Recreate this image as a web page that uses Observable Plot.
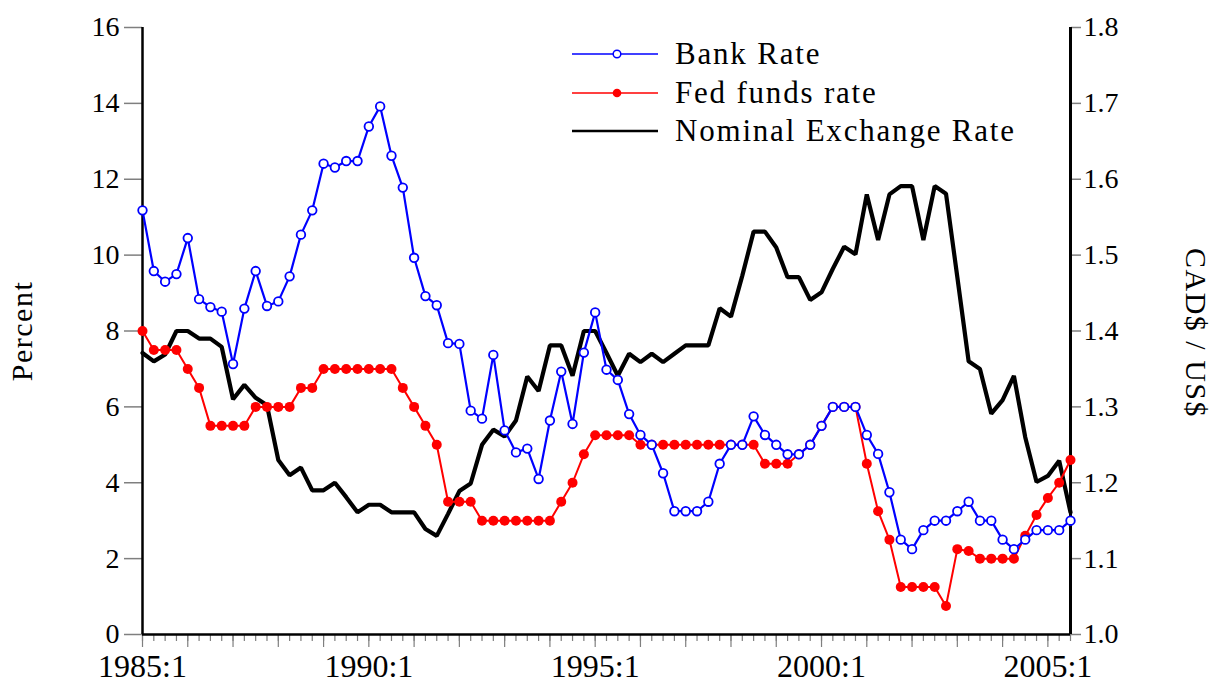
<!DOCTYPE html>
<html>
<head>
<meta charset="utf-8">
<script src="https://cdn.jsdelivr.net/npm/d3@7"></script>
<script src="https://cdn.jsdelivr.net/npm/@observablehq/plot@0.6"></script>
<style>
  body { margin: 0; background: #fff; }
  #wrap { position: relative; width: 1231px; height: 688px; }
  #wrap svg { display: block; }
  #overlay { position: absolute; left: 0; top: 0; pointer-events: none; }
</style>
</head>
<body>
<div id="wrap"></div>
<script>
// Quarterly periods
const periods = [
  "1985:1","1985:2","1985:3","1985:4","1986:1","1986:2","1986:3","1986:4",
  "1987:1","1987:2","1987:3","1987:4","1988:1","1988:2","1988:3","1988:4",
  "1989:1","1989:2","1989:3","1989:4","1990:1","1990:2","1990:3","1990:4",
  "1991:1","1991:2","1991:3","1991:4","1992:1","1992:2","1992:3","1992:4",
  "1993:1","1993:2","1993:3","1993:4","1994:1","1994:2","1994:3","1994:4",
  "1995:1","1995:2","1995:3","1995:4","1996:1","1996:2","1996:3","1996:4",
  "1997:1","1997:2","1997:3","1997:4","1998:1","1998:2","1998:3","1998:4",
  "1999:1","1999:2","1999:3","1999:4","2000:1","2000:2","2000:3","2000:4",
  "2001:1","2001:2","2001:3","2001:4","2002:1","2002:2","2002:3","2002:4",
  "2003:1","2003:2","2003:3","2003:4","2004:1","2004:2","2004:3","2004:4",
  "2005:1","2005:2","2005:3"
];

// Bank Rate (Canada), percent
const bankRate = [
  11.18, 9.58, 9.30, 9.50, 10.45, 8.84, 8.63, 8.51,
  7.13, 8.59, 9.58, 8.66, 8.78, 9.44, 10.54, 11.18,
  12.41, 12.31, 12.48, 12.48, 13.39, 13.92, 12.62, 11.78,
  9.93, 8.92, 8.68, 7.68, 7.66, 5.90, 5.69, 7.37,
  5.38, 4.80, 4.90, 4.10, 5.64, 6.93, 5.55, 7.43,
  8.49, 6.98, 6.71, 5.81, 5.26, 5.00, 4.25, 3.25,
  3.25, 3.25, 3.50, 4.50, 5.00, 5.00, 5.75, 5.26,
  5.00, 4.75, 4.75, 5.00, 5.50, 6.00, 6.00, 6.00,
  5.26, 4.76, 3.75, 2.50, 2.25, 2.75, 3.00, 3.00,
  3.25, 3.50, 3.00, 3.00, 2.50, 2.25, 2.50, 2.75,
  2.75, 2.75, 3.00
];

// Fed funds rate, percent
const fedFunds = [
  8.00, 7.50, 7.50, 7.50, 7.00, 6.50, 5.50, 5.50,
  5.50, 5.50, 6.00, 6.00, 6.00, 6.00, 6.50, 6.50,
  7.00, 7.00, 7.00, 7.00, 7.00, 7.00, 7.00, 6.50,
  6.00, 5.50, 5.00, 3.50, 3.50, 3.50, 3.00, 3.00,
  3.00, 3.00, 3.00, 3.00, 3.00, 3.50, 4.00, 4.75,
  5.25, 5.25, 5.25, 5.25, 5.00, 5.00, 5.00, 5.00,
  5.00, 5.00, 5.00, 5.00, 5.00, 5.00, 5.00, 4.50,
  4.50, 4.50, 4.75, 5.00, 5.50, 6.00, 6.00, 6.00,
  4.50, 3.25, 2.50, 1.25, 1.25, 1.25, 1.25, 0.75,
  2.25, 2.20, 2.00, 2.00, 2.00, 2.00, 2.60, 3.15,
  3.60, 4.00, 4.60
];

// Nominal exchange rate, CAD$ per US$
const exchangeRate = [
  1.371, 1.360, 1.369, 1.400, 1.400, 1.390, 1.390, 1.379,
  1.310, 1.329, 1.312, 1.302, 1.230, 1.210, 1.220, 1.190,
  1.190, 1.200, 1.181, 1.161, 1.171, 1.171, 1.161, 1.161,
  1.161, 1.139, 1.130, 1.159, 1.189, 1.199, 1.250, 1.270,
  1.261, 1.282, 1.340, 1.321, 1.381, 1.381, 1.341, 1.400,
  1.400, 1.371, 1.341, 1.370, 1.359, 1.370, 1.359, 1.370,
  1.381, 1.381, 1.381, 1.430, 1.419, 1.473, 1.531, 1.531,
  1.510, 1.471, 1.471, 1.441, 1.451, 1.482, 1.511, 1.501,
  1.580, 1.520, 1.580, 1.591, 1.591, 1.520, 1.591, 1.581,
  1.471, 1.360, 1.350, 1.291, 1.309, 1.341, 1.260, 1.201,
  1.209, 1.229, 1.161
];

const leftTicks = [0, 2, 4, 6, 8, 10, 12, 14, 16];
const rightTicks = [1.0, 1.1, 1.2, 1.3, 1.4, 1.5, 1.6, 1.7, 1.8];
const xLabelPeriods = ["1985:1", "1990:1", "1995:1", "2000:1", "2005:1"];

const seriesNames = ["Bank Rate", "Fed funds rate", "Nominal Exchange Rate"];
const seriesColors = ["#0000ff", "#ff0000", "#000000"];

// map right-axis values onto the left scale
const rMin = rightTicks[0], rMax = rightTicks[rightTicks.length - 1];
const lMin = leftTicks[0], lMax = leftTicks[leftTicks.length - 1];
const toLeft = v => lMin + (v - rMin) / (rMax - rMin) * (lMax - lMin);
const toRight = y => rMin + (y - lMin) / (lMax - lMin) * (rMax - rMin);

const rows = periods.map((p, i) => ({
  i, p, bank: bankRate[i], fed: fedFunds[i], fxY: toLeft(exchangeRate[i])
}));

const qIdx = periods.map((p, i) => i);
const yearIdx = qIdx.filter(i => periods[i].endsWith(":1"));
const labelIdx = qIdx.filter(i => xLabelPeriods.includes(periods[i]));

const W = 1231, H = 688;
const mL = 142, mR = 161, mT = 27, mB = 54;
const serif = "Liberation Serif";

const chart = Plot.plot({
  width: W, height: H,
  marginLeft: mL, marginRight: mR, marginTop: mT, marginBottom: mB,
  x: { domain: [0, periods.length - 1] },
  y: { domain: [lMin, lMax] },
  style: { fontFamily: serif, background: "white", overflow: "visible" },
  marks: [
    // left axis
    Plot.axisY({ ticks: leftTicks, tickSize: 18, tickPadding: 5, stroke: "#7f7f7f", strokeWidth: 1.5,
      fill: "black", fontSize: 28, fontFamily: serif, label: null, tickFormat: d => String(d) }),
    // right axis
    Plot.axisY({ anchor: "right", ticks: rightTicks.map(toLeft), tickSize: 10, tickPadding: 3,
      stroke: "#7f7f7f", strokeWidth: 1.5, fill: "black", fontSize: 28, fontFamily: serif, label: null,
      tickFormat: d => toRight(d).toFixed(1) }),
    // x axis: quarterly minor ticks
    Plot.axisX({ ticks: qIdx, tickSize: 7, stroke: "#7f7f7f", strokeWidth: 1.2, tickFormat: () => "", label: null }),
    // yearly ticks
    Plot.axisX({ ticks: yearIdx, tickSize: 13, stroke: "#7f7f7f", strokeWidth: 1.2, tickFormat: () => "", label: null }),
    // labels every five years
    Plot.axisX({ ticks: labelIdx, tickSize: 0, tickPadding: 20, fill: "black", fontSize: 32, fontFamily: serif,
      tickFormat: i => periods[i], label: null }),
    // frame lines
    Plot.ruleX([0], { stroke: "black", strokeWidth: 2.5 }),
    Plot.ruleX([periods.length - 1], { stroke: "black", strokeWidth: 3 }),
    Plot.ruleY([lMin], { stroke: "black", strokeWidth: 2.5 }),
    // exchange rate
    Plot.line(rows, { x: "i", y: "fxY", stroke: seriesColors[2], strokeWidth: 4.2, strokeLinejoin: "miter" }),
    // fed funds
    Plot.line(rows, { x: "i", y: "fed", stroke: seriesColors[1], strokeWidth: 2 }),
    Plot.dot(rows, { x: "i", y: "fed", r: 5, fill: seriesColors[1], stroke: "none" }),
    // bank rate
    Plot.line(rows, { x: "i", y: "bank", stroke: seriesColors[0], strokeWidth: 2.2 }),
    Plot.dot(rows, { x: "i", y: "bank", r: 4.3, fill: "white", stroke: seriesColors[0], strokeWidth: 1.8 })
  ]
});

const wrap = document.getElementById("wrap");
wrap.appendChild(chart);
d3.select(chart).style("font-family", serif);
d3.select(chart).selectAll("g, text").style("font-family", serif);

// overlay: legend and axis titles
const ov = d3.select(wrap).append("svg")
  .attr("id", "overlay").attr("width", W).attr("height", H)
  .style("font-family", serif);

const legX1 = 572, legX2 = 658, legMid = 617, legTextX = 675;
const legRows = [54, 93, 131];
seriesNames.forEach((name, k) => {
  const y = legRows[k];
  ov.append("line").attr("x1", legX1).attr("x2", legX2).attr("y1", y).attr("y2", y)
    .attr("stroke", seriesColors[k]).attr("stroke-width", k === 2 ? 2.5 : 1.3);
  if (k === 0) ov.append("circle").attr("cx", legMid).attr("cy", y).attr("r", 3.8)
    .attr("fill", "white").attr("stroke", seriesColors[0]).attr("stroke-width", 1.5);
  if (k === 1) ov.append("circle").attr("cx", legMid).attr("cy", y).attr("r", 4.3)
    .attr("fill", seriesColors[1]);
  ov.append("text").attr("x", legTextX).attr("y", y + 10).attr("font-size", 31)
    .style("font-family", serif)
    .attr("letter-spacing", "1.8px").attr("fill", "black").text(name);
});

ov.append("text").attr("transform", "translate(32,331) rotate(-90)").style("font-family", serif)
  .attr("text-anchor", "middle").attr("font-size", 30).attr("letter-spacing", "1.5px").text("Percent");
ov.append("text").attr("transform", "translate(1186,333) rotate(90)").style("font-family", serif)
  .attr("text-anchor", "middle").attr("font-size", 30).attr("letter-spacing", "1.5px").text("CAD$ / US$");
</script>
</body>
</html>
